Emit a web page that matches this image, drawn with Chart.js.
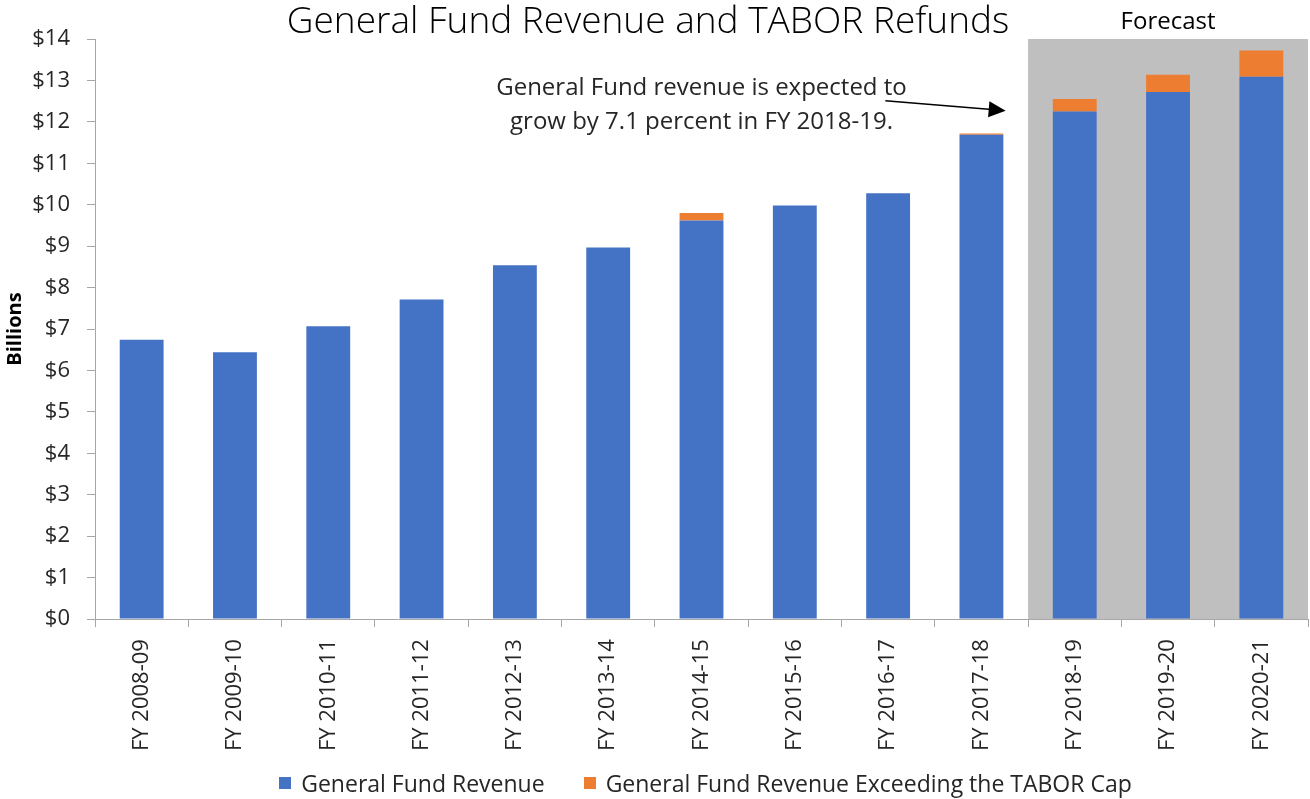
<!DOCTYPE html>
<html>
<head>
<meta charset="utf-8">
<title>General Fund Revenue and TABOR Refunds</title>
<script src="https://cdn.jsdelivr.net/npm/chart.js@4.4.1/dist/chart.umd.min.js"></script>
<style>
    html, body { margin: 0; padding: 0; background: #fff; }
    #wrap { position: relative; width: 1310px; height: 799px; }
    #legend {
        position: absolute; left: 99px; width: 1213px; top: 769px;
        display: flex; justify-content: center; gap: 39px;
        font-family: 'Open Sans', 'DejaVu Sans', sans-serif; font-size: 23px; color: #262626;
        line-height: 28px;
    }
    #legend .item { display: flex; align-items: center; gap: 10px; white-space: nowrap; }
    #legend .swatch { width: 12px; height: 12px; }
</style>
</head>
<body>
<div id="wrap">
    <canvas id="revenueChart"></canvas>
    <div id="legend"></div>
</div>
<script>
// Data (billions of dollars)
const fiscalYears = ['FY 2008-09', 'FY 2009-10', 'FY 2010-11', 'FY 2011-12', 'FY 2012-13', 'FY 2013-14',
    'FY 2014-15', 'FY 2015-16', 'FY 2016-17', 'FY 2017-18', 'FY 2018-19', 'FY 2019-20', 'FY 2020-21'];
const generalFund = [6.74, 6.44, 7.07, 7.71, 8.54, 8.97, 9.62, 9.98, 10.28, 11.69, 12.25, 12.72, 13.09];
const overTaborCap = [0, 0, 0, 0, 0, 0, 0.18, 0, 0, 0.03, 0.30, 0.42, 0.63];
const forecastYears = ['FY 2018-19', 'FY 2019-20', 'FY 2020-21'];
const yMin = 0, yMax = 14, yStep = 1;
const noteLines = ['General Fund revenue is expected to', 'grow by 7.1 percent in FY 2018-19.'];

const FONT = "'Open Sans', 'DejaVu Sans', sans-serif";
const TEXT = '#262626';
const AXIS = '#a6a6a6';

// Forecast shading, title and callout arrow
const chartExtras = {
    id: 'chartExtras',
    beforeDatasetsDraw(chart) {
        const { ctx, chartArea, scales: { x } } = chart;
        const half = (x.getPixelForValue(1) - x.getPixelForValue(0)) / 2;
        const left = x.getPixelForValue(fiscalYears.indexOf(forecastYears[0])) - half;
        ctx.save();
        ctx.fillStyle = '#bfbfbf';
        ctx.fillRect(left, chartArea.top, chartArea.right - left, chartArea.bottom - chartArea.top);
        ctx.restore();
    },
    afterDraw(chart) {
        const { ctx, chartArea, scales: { x, y } } = chart;
        const half = (x.getPixelForValue(1) - x.getPixelForValue(0)) / 2;
        const left = x.getPixelForValue(fiscalYears.indexOf(forecastYears[0])) - half;
        ctx.save();
        ctx.fillStyle = '#000';
        ctx.textAlign = 'center';
        ctx.textBaseline = 'middle';

        ctx.font = '300 37px ' + FONT;
        ctx.fillText('General Fund Revenue and TABOR Refunds', 648, 22);

        ctx.font = '24px ' + FONT;
        ctx.fillText('Forecast', (left + chartArea.right) / 2, 22);

        ctx.fillStyle = TEXT;
        const noteX = x.getPixelForValue(6);
        ctx.fillText(noteLines[0], noteX, y.getPixelForValue(12.82));
        ctx.fillText(noteLines[1], noteX, y.getPixelForValue(12.0));

        // arrow
        const x0 = x.getPixelForValue(7.97), y0 = y.getPixelForValue(12.51);
        const x1 = x.getPixelForValue(9.26), y1 = y.getPixelForValue(12.27);
        const ang = Math.atan2(y1 - y0, x1 - x0);
        ctx.strokeStyle = '#000';
        ctx.lineWidth = 1.5;
        ctx.beginPath();
        ctx.moveTo(x0, y0);
        ctx.lineTo(x1 - 14 * Math.cos(ang), y1 - 14 * Math.sin(ang));
        ctx.stroke();
        ctx.fillStyle = '#000';
        ctx.beginPath();
        ctx.moveTo(x1, y1);
        ctx.lineTo(x1 - 17 * Math.cos(ang) + 8 * Math.sin(ang), y1 - 17 * Math.sin(ang) - 8 * Math.cos(ang));
        ctx.lineTo(x1 - 17 * Math.cos(ang) - 8 * Math.sin(ang), y1 - 17 * Math.sin(ang) + 8 * Math.cos(ang));
        ctx.closePath();
        ctx.fill();
        ctx.restore();
    }
};

const ctx = document.getElementById('revenueChart').getContext('2d');
const revenueChart = new Chart(ctx, {
    type: 'bar',
    data: {
        labels: fiscalYears,
        datasets: [{
            label: 'General Fund Revenue',
            data: generalFund,
            backgroundColor: '#4472c4',
            borderWidth: 0,
            categoryPercentage: 1,
            barPercentage: 0.47
        }, {
            label: 'General Fund Revenue Exceeding the TABOR Cap',
            data: overTaborCap,
            backgroundColor: '#ed7d31',
            borderWidth: 0,
            categoryPercentage: 1,
            barPercentage: 0.47
        }]
    },
    options: {
        responsive: true,
        maintainAspectRatio: false,
        animation: false,
        layout: { padding: { top: 39, right: 2, bottom: 36, left: 0 } },
        plugins: {
            tooltip: { enabled: false },
            legend: { display: false }
        },
        scales: {
            x: {
                stacked: true,
                grid: { display: true, drawOnChartArea: false, drawTicks: true, tickLength: 8, color: AXIS },
                border: { display: true, color: AXIS },
                ticks: {
                    autoSkip: false, minRotation: 90, maxRotation: 90, padding: 12,
                    color: TEXT, font: { family: FONT, size: 22 }
                }
            },
            y: {
                stacked: true,
                min: yMin, max: yMax,
                grid: { display: true, drawOnChartArea: false, drawTicks: true, tickLength: 8, color: AXIS },
                border: { display: true, color: AXIS },
                ticks: {
                    stepSize: yStep, padding: 17,
                    color: TEXT, font: { family: FONT, size: 22 },
                    callback: (v) => '$' + v
                },
                title: {
                    display: true, text: 'Billions', color: '#000',
                    font: { family: FONT, size: 20, weight: 'bold' },
                    padding: { top: 3, bottom: 0 }
                },
                afterFit(scale) { scale.width = 95; }
            }
        }
    },
    plugins: [chartExtras]
});

// HTML legend
const legendEl = document.getElementById('legend');
revenueChart.data.datasets.forEach((ds) => {
    const item = document.createElement('div');
    item.className = 'item';
    item.innerHTML = '<span class="swatch" style="background:' + ds.backgroundColor + '"></span><span>' + ds.label + '</span>';
    legendEl.appendChild(item);
});
</script>
</body>
</html>
